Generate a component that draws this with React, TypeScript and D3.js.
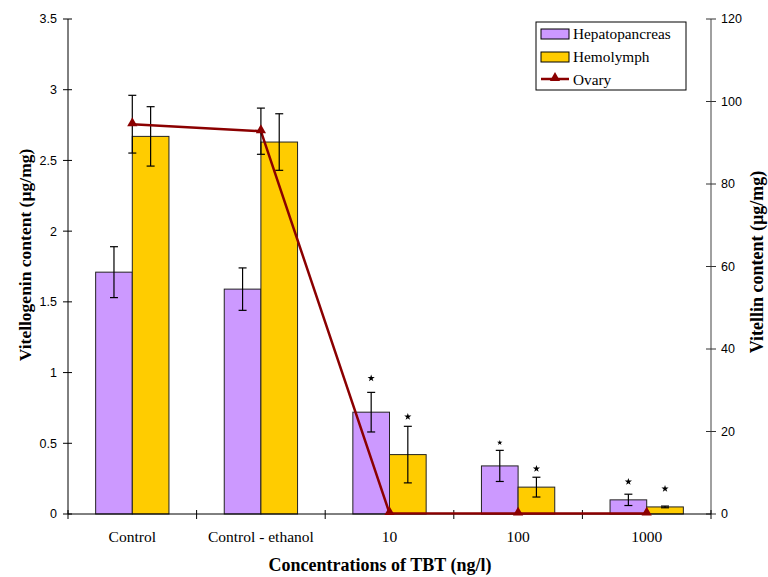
import React from "react";
import * as d3 from "d3";

const categories = ["Control", "Control - ethanol", "10", "100", "1000"];
const hepatopancreas = [1.71, 1.59, 0.72, 0.34, 0.1];
const hepatopancreasErr = [0.18, 0.15, 0.14, 0.11, 0.04];
const hemolymph = [2.67, 2.63, 0.42, 0.19, 0.05];
const hemolymphErr = [0.21, 0.2, 0.2, 0.07, 0.006];
const ovary = [94.5, 92.8, 0.2, 0.1, 0.1];
const ovaryErr = [7, 5.6, 0, 0, 0];
// star annotation levels (left axis units), null = none
const hepaStar = [null, null, 0.96, 0.504, 0.228];
const hemoStar = [null, null, 0.688, 0.32, 0.179];
const leftTicks = [0, 0.5, 1, 1.5, 2, 2.5, 3, 3.5];
const rightTicks = [0, 20, 40, 60, 80, 100, 120];

const W = 768;
const H = 577;
const margin = { top: 19, right: 57, bottom: 63, left: 68 };

export default function App() {
  const x = d3
    .scaleBand()
    .domain(categories)
    .range([margin.left, W - margin.right]);
  const y = d3
    .scaleLinear()
    .domain([0, 3.5])
    .range([H - margin.bottom, margin.top]);
  const y2 = d3
    .scaleLinear()
    .domain([0, 120])
    .range([H - margin.bottom, margin.top]);

  const bw = x.bandwidth() * 0.285;
  const center = (c: string) => (x(c) as number) + x.bandwidth() / 2;

  const line = d3
    .line<number>()
    .x((_, i) => center(categories[i]))
    .y((d) => y2(d));

  const tri = d3.symbol().type(d3.symbolTriangle).size(45)();
  const star = d3.symbol().type(d3.symbolStar);

  const serif = "'Liberation Serif', 'Times New Roman', serif";
  const sans = "'Liberation Sans', Arial, sans-serif";
  const x0 = margin.left;
  const x1 = W - margin.right;
  const yb = H - margin.bottom;

  const errBar = (cx: number, top: number, bot: number, key: string, color = "#000") => (
    <g key={key} stroke={color} strokeWidth={1.2}>
      <line x1={cx} x2={cx} y1={top} y2={bot} />
      <line x1={cx - 4} x2={cx + 4} y1={top} y2={top} />
      <line x1={cx - 4} x2={cx + 4} y1={bot} y2={bot} />
    </g>
  );

  return (
    <svg
      width={W}
      height={H}
      style={{ position: "absolute", left: 0, top: 0, background: "#fff" }}
    >
      {/* bars */}
      {categories.map((c, i) => {
        const cx = center(c);
        return (
          <g key={c}>
            <rect
              x={cx - bw}
              y={y(hepatopancreas[i])}
              width={bw}
              height={yb - y(hepatopancreas[i])}
              fill="#cc99ff"
              stroke="#222"
              strokeWidth={1}
            />
            <rect
              x={cx}
              y={y(hemolymph[i])}
              width={bw}
              height={yb - y(hemolymph[i])}
              fill="#ffcc00"
              stroke="#222"
              strokeWidth={1}
            />
            {errBar(cx - bw / 2, y(hepatopancreas[i] + hepatopancreasErr[i]), y(hepatopancreas[i] - hepatopancreasErr[i]), "he")}
            {errBar(cx + bw / 2, y(hemolymph[i] + hemolymphErr[i]), y(hemolymph[i] - hemolymphErr[i]), "hm")}
            {hepaStar[i] !== null && (
              <path
                d={star.size(i === 3 ? 9 : 16)() as string}
                transform={`translate(${cx - bw / 2},${y(hepaStar[i] as number)})`}
                fill="#000"
              />
            )}
            {hemoStar[i] !== null && (
              <path
                d={star.size(16)() as string}
                transform={`translate(${cx + bw / 2},${y(hemoStar[i] as number)})`}
                fill="#000"
              />
            )}
          </g>
        );
      })}

      {/* left axis */}
      <line x1={x0} x2={x0} y1={margin.top} y2={yb} stroke="#000" />
      {leftTicks.map((t) => (
        <g key={t}>
          <line x1={x0 - 5} x2={x0 + 4} y1={y(t)} y2={y(t)} stroke="#000" />
          <text
            x={x0 - 11}
            y={y(t)}
            dy="0.35em"
            textAnchor="end"
            fontFamily={sans}
            fontSize={12.5}
          >
            {t}
          </text>
        </g>
      ))}

      {/* right axis */}
      <line x1={x1} x2={x1} y1={margin.top} y2={yb} stroke="#808080" strokeWidth={1.5} />
      {rightTicks.map((t) => (
        <g key={t}>
          <line x1={x1 - 5} x2={x1 + 5} y1={y2(t)} y2={y2(t)} stroke="#333" />
          <text
            x={x1 + 10}
            y={y2(t)}
            dy="0.35em"
            fontFamily={sans}
            fontSize={12.5}
          >
            {t}
          </text>
        </g>
      ))}

      {/* bottom axis */}
      <line x1={x0} x2={x1} y1={yb} y2={yb} stroke="#000" />
      {[...categories.map((c) => x(c) as number), x1].map((p, i) => (
        <line key={i} x1={p} x2={p} y1={yb - 4} y2={yb + 5} stroke="#000" />
      ))}
      {categories.map((c) => (
        <text
          key={c}
          x={center(c)}
          y={yb + 28}
          textAnchor="middle"
          fontFamily={serif}
          fontSize={15.5}
        >
          {c}
        </text>
      ))}

      {/* ovary line */}
      <path d={line(ovary) as string} fill="none" stroke="#8b0000" strokeWidth={2.5} />
      {ovary.map((v, i) =>
        ovaryErr[i] > 0
          ? errBar(center(categories[i]), y2(v + ovaryErr[i]), y2(v - ovaryErr[i]), "ov" + i)
          : null
      )}
      {ovary.map((v, i) => (
        <path
          key={i}
          d={tri as string}
          transform={`translate(${center(categories[i])},${y2(v) - 1})`}
          fill="#8b0000"
        />
      ))}

      {/* axis titles */}
      <text
        transform="translate(31,255) rotate(-90)"
        textAnchor="middle"
        fontFamily={serif}
        fontWeight="bold"
        fontSize={17.5}
      >
        Vitellogenin content (µg/mg)
      </text>
      <text
        transform="translate(763,262) rotate(-90)"
        textAnchor="middle"
        fontFamily={serif}
        fontWeight="bold"
        fontSize={18}
      >
        Vitellin content (µg/mg)
      </text>
      <text
        x={380}
        y={571}
        textAnchor="middle"
        fontFamily={serif}
        fontWeight="bold"
        fontSize={18}
      >
        Concentrations of TBT (ng/l)
      </text>

      {/* legend */}
      <g>
        <rect x={536} y={22} width={150} height={68} fill="#fff" stroke="#000" />
        <rect x={541} y={29} width={28} height={10} fill="#cc99ff" stroke="#000" />
        <text x={573} y={38.5} fontFamily={serif} fontSize={15.3}>Hepatopancreas</text>
        <rect x={541} y={52} width={28} height={10} fill="#ffcc00" stroke="#000" />
        <text x={573} y={61.5} fontFamily={serif} fontSize={15.3}>Hemolymph</text>
        <line x1={541} x2={569} y1={79} y2={79} stroke="#8b0000" strokeWidth={2.5} />
        <path d={tri as string} transform="translate(555,78)" fill="#8b0000" />
        <text x={573} y={84.5} fontFamily={serif} fontSize={15.3}>Ovary</text>
      </g>
    </svg>
  );
}
